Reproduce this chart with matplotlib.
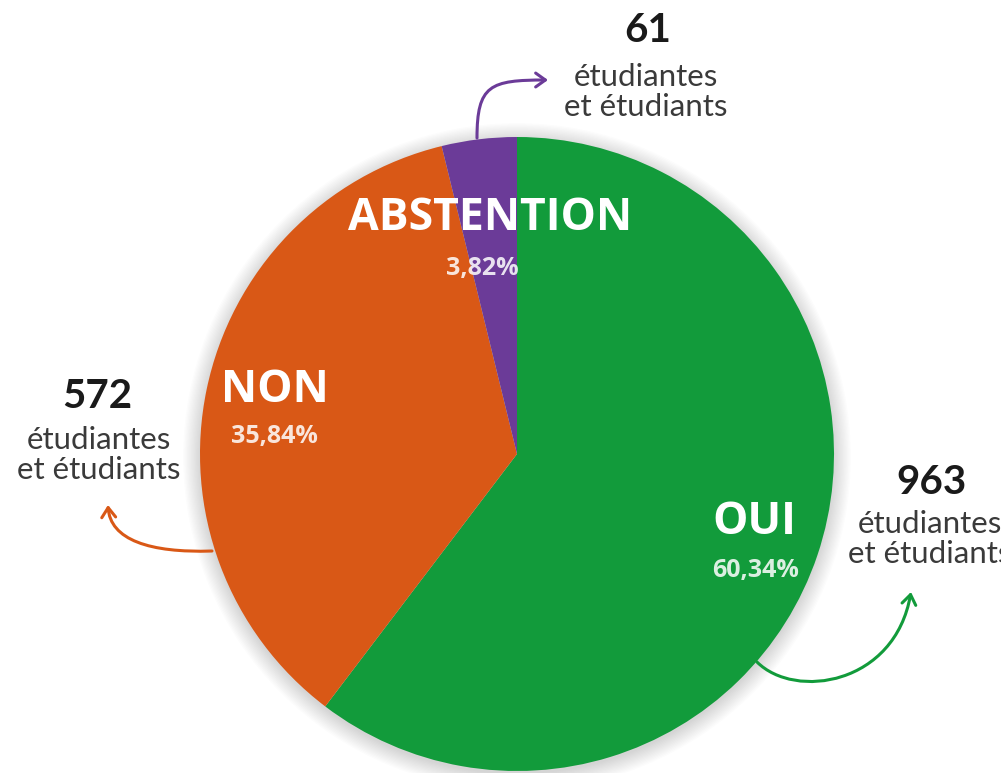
import matplotlib.pyplot as plt
from matplotlib.patches import FancyArrowPatch, Circle
from matplotlib.path import Path

W, H = 1001, 773

labels = ['OUI', 'NON', 'ABSTENTION']
percents = [60.34, 35.84, 3.82]
counts = [963, 572, 61]
colors = ['#129b3b', '#d95816', '#6b3b98']
sub_text = 'étudiantes\net étudiants'

# pixel positions (y measured from top), converted below
CX, CY, R = 517, 454, 317
label_pos = {'OUI': (754, 522), 'NON': (275, 390), 'ABSTENTION': (490, 218)}
pct_pos = {'OUI': (756, 571), 'NON': (274, 437), 'ABSTENTION': (482, 268)}
count_pos = {'OUI': (932, 482), 'NON': (97, 397), 'ABSTENTION': (648, 30)}
sub_pos = {'OUI': (930, 539), 'NON': (99, 455), 'ABSTENTION': (646, 92)}
arrows = {
    'OUI': [(757, 662), (795, 700), (895, 685), (911, 592)],
    'NON': [(212, 551), (150, 553), (110, 540), (108, 505)],
    'ABSTENTION': [(477, 138), (477, 85), (490, 80), (548, 80)],
}


def fy(y):
    return H - y


fig = plt.figure(figsize=(W / 100, H / 100), dpi=100)
ax = fig.add_axes([0, 0, 1, 1])

# soft shadow
for i in range(14):
    ax.add_patch(Circle((CX, fy(CY) - 3), R + i * 1.3, color='black',
                        alpha=0.012, lw=0, zorder=0))

ax.pie(percents, colors=colors, startangle=90, counterclock=False,
       center=(CX, fy(CY)), radius=R, frame=True,
       wedgeprops=dict(linewidth=0))
ax.set_xlim(0, W)
ax.set_ylim(0, H)
ax.set_aspect('equal')
ax.axis('off')

for lab, pct, n, col in zip(labels, percents, counts, colors):
    x, y = label_pos[lab]
    ax.text(x, fy(y), lab, ha='center', va='center', color='white',
            fontsize=32, fontweight='bold', family='Open Sans', zorder=5)
    x, y = pct_pos[lab]
    ax.text(x, fy(y), f'{pct:.2f}%'.replace('.', ','), ha='center', va='center',
            color='white', alpha=0.85, fontsize=18, fontweight='bold',
            family='Open Sans', zorder=5)
    x, y = count_pos[lab]
    ax.text(x, fy(y), str(n), ha='center', va='center', color='#1a1a1a',
            fontsize=29, fontweight='bold', family='Lato', zorder=5)
    x, y = sub_pos[lab]
    ax.text(x, fy(y), sub_text, ha='center', va='center', color='#3a3a3a',
            fontsize=22.5, family='Lato', linespacing=1.08, zorder=5)
    pts = [(px, fy(py)) for px, py in arrows[lab]]
    path = Path(pts, [Path.MOVETO, Path.CURVE4, Path.CURVE4, Path.CURVE4])
    ax.add_patch(FancyArrowPatch(path=path,
                                 arrowstyle='->,head_length=7,head_width=5',
                                 color=col, lw=2.2, zorder=4))

fig.savefig('out.png', dpi=100)
